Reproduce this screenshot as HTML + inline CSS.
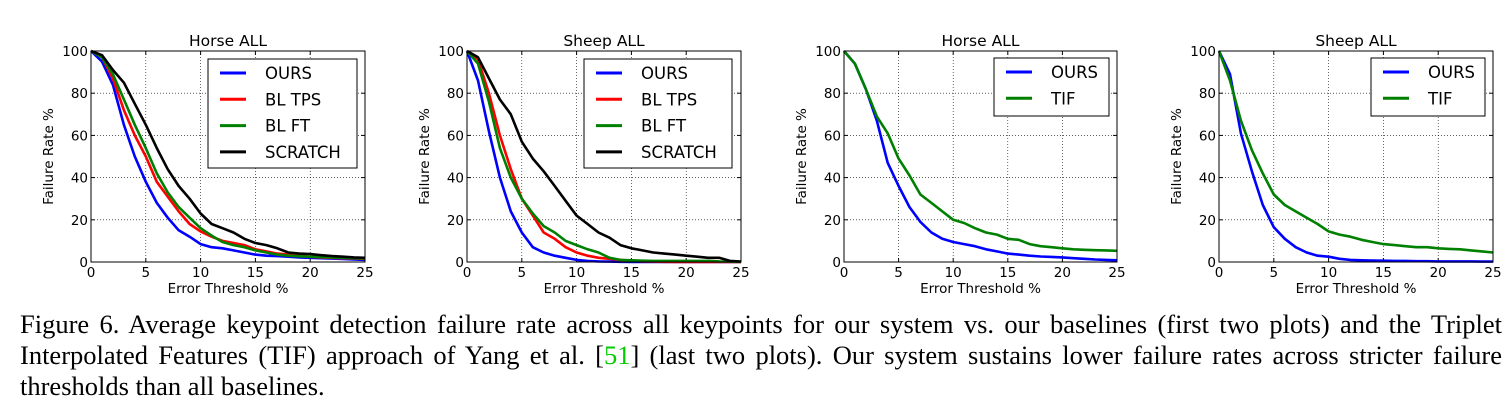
<!DOCTYPE html>
<html><head><meta charset="utf-8">
<style>
body{margin:0;background:#fff;width:1510px;height:412px;overflow:hidden;position:relative}
#cap{position:absolute;left:20px;top:309px;width:1482px;font-family:"Liberation Serif",serif;font-size:26.5px;line-height:31px;color:#000}
#cap .ln{display:block;text-align:justify;text-align-last:justify;white-space:nowrap}
#cap .last{display:block;text-align:left}
#cap .ref{color:#0c0}
svg text{font-family:"DejaVu Sans","Liberation Sans",sans-serif}
</style></head><body>
<svg id="fig" width="1510" height="300" style="position:absolute;left:0;top:0"></svg>
<div id="cap"><span class="ln">Figure 6. Average keypoint detection failure rate across all keypoints for our system vs. our baselines (first two plots) and the Triplet</span><span class="ln">Interpolated Features (TIF) approach of Yang et al. [<span class="ref">51</span>] (last two plots). Our system sustains lower failure rates across stricter failure</span><span class="last">thresholds than all baselines.</span></div>
<script>
const xTicks=[0,5,10,15,20,25];
const yTicks=[0,20,40,60,80,100];
const titles=["Horse ALL","Sheep ALL","Horse ALL","Sheep ALL"];
const p1Ours=[100,95,84,65,50,38,28,21,15,12,8.5,7,6.5,5.5,4.5,3.5,3,2.8,2.5,2.2,2,1.8,1.6,1.4,1.2,1];
const p1Tps=[100,97,87,72,60,50,38,31,24,18,14.5,12,10,9,8,6,5,4,3.5,3,2.5,2.2,2,1.8,1.7,1.5];
const p1Ft=[100,97,89,77,65,54,42,33,26,21,16,12.5,9.5,8,7,5.5,4.5,3.5,3,2.7,2.5,2.3,2.2,2,1.8,1.7];
const p1Scratch=[100,98,91,85,75,65,54,44,36,30,23,18,16,14,11,9,8,6.5,4.5,4,3.8,3.2,2.8,2.5,2.2,2];
const p2Ours=[100,86,62,40,24,14,7,4.5,3,2,1,0.5,0.3,0.2,0.1,0,0,0,0,0,0,0,0,0,0,0];
const p2Tps=[100,96,80,60,44,30,22,14,11,7,4.5,3,2,1.5,1,0.5,0.3,0.2,0.1,0,0,0,0,0,0,0];
const p2Ft=[100,94,76,54,40,30,23,17,14,10,8,6,4.5,2,1,0.8,0.6,0.5,0.5,0.5,0.5,0.5,0.5,0.3,0.2,0.1];
const p2Scratch=[100,97,87,77,70,57,49,43,36,29,22,18,14,11.5,8,6.5,5.5,4.5,4,3.5,3,2.5,2,2,0.5,0.2];
const p3Ours=[100,94,82,67,47,36,26,19,14,11,9.5,8.5,7.5,6,5,4,3.5,3,2.6,2.4,2.2,1.8,1.5,1.2,1,0.8];
const p3Tif=[100,94,82,69,61,49,41,32,28,24,20,18.5,16,14,13,11,10.5,8.5,7.5,7,6.5,6,5.8,5.6,5.5,5.3];
const p4Ours=[100,89,61,43,27,16.5,11,7,4.5,3,2.5,1.5,1,0.8,0.7,0.6,0.5,0.5,0.4,0.4,0.3,0.3,0.3,0.3,0.2,0.2];
const p4Tif=[100,86,67,53,42,32,27,24,21,18,14.5,13,12,10.5,9.5,8.5,8,7.5,7,7,6.5,6.2,6,5.5,5,4.5];
const ns="http://www.w3.org/2000/svg";
const svg=document.getElementById('fig');
function mk(tag,attrs,parent){const e=document.createElementNS(ns,tag);for(const k in attrs)e.setAttribute(k,attrs[k]);(parent||svg).appendChild(e);return e;}
const panels=[
 {x0:91,x1:365,leg:[208,59,357,168],series:[["OURS",p1Ours,"#0000ff"],["BL TPS",p1Tps,"#ff0000"],["BL FT",p1Ft,"#008000"],["SCRATCH",p1Scratch,"#000"]]},
 {x0:467,x1:741,leg:[584,59,732,168],series:[["OURS",p2Ours,"#0000ff"],["BL TPS",p2Tps,"#ff0000"],["BL FT",p2Ft,"#008000"],["SCRATCH",p2Scratch,"#000"]]},
 {x0:844,x1:1117,leg:[994,58,1109,116],series:[["OURS",p3Ours,"#0000ff"],["TIF",p3Tif,"#008000"]]},
 {x0:1219,x1:1493,leg:[1371,58,1485,116],series:[["OURS",p4Ours,"#0000ff"],["TIF",p4Tif,"#008000"]]}
];
const yT=51,yB=262;
panels.forEach((p,i)=>{
 const g=mk('g',{});
 
 
 const sx=v=>p.x0+(p.x1-p.x0)*v/25, sy=v=>yB-(yB-yT)*v/100;
 xTicks.forEach(t=>{
  const x=sx(t);
  if(t>0&&t<25){const l=mk('line',{x1:x,x2:x,y1:yT,y2:yB,stroke:'#000','stroke-width':0.6,'stroke-dasharray':'1,2'},g);}
  mk('line',{x1:x,x2:x,y1:yB,y2:yB-4,stroke:'#000'},g);
  mk('line',{x1:x,x2:x,y1:yT,y2:yT+4,stroke:'#000'},g);
  const tx=mk('text',{x:x,y:yB+15,'text-anchor':'middle','font-size':13.5},g);tx.textContent=t;
  
 });
 yTicks.forEach(t=>{
  const y=sy(t);
  if(t>0&&t<100){const l=mk('line',{x1:p.x0,x2:p.x1,y1:y,y2:y,stroke:'#000','stroke-width':0.6,'stroke-dasharray':'1,2'},g);}
  mk('line',{x1:p.x0,x2:p.x0+4,y1:y,y2:y,stroke:'#000'},g);
  mk('line',{x1:p.x1,x2:p.x1-4,y1:y,y2:y,stroke:'#000'},g);
  const tx=mk('text',{x:p.x0-3,y:y+5,'text-anchor':'end','font-size':13.5},g);tx.textContent=t;
  
 });
 p.series.forEach(s=>{
  const pts=s[1].map((v,k)=>sx(k).toFixed(1)+','+sy(v).toFixed(1)).join(' ');
  const pl=mk('polyline',{points:pts,fill:'none',stroke:s[2],'stroke-width':2.6,'stroke-linejoin':'round'},g);
  
  
 });
 const fr=mk('rect',{x:p.x0,y:yT,width:p.x1-p.x0,height:yB-yT,fill:'none',stroke:'#000','stroke-width':1},g);
 
 const tt=mk('text',{x:(p.x0+p.x1)/2,y:46,'text-anchor':'middle','font-size':15.5},g);tt.textContent=titles[i];
 
 const xl=mk('text',{x:(p.x0+p.x1)/2,y:293,'text-anchor':'middle','font-size':13.5},g);xl.textContent='Error Threshold %';
 
 const yl=mk('text',{x:0,y:0,'text-anchor':'middle','font-size':13.5,transform:`translate(${p.x0-38},${(yT+yB)/2}) rotate(-90)`},g);yl.textContent='Failure Rate %';
 
 const L=p.leg;
 const lg=mk('g',{},g);
 
 mk('rect',{x:L[0],y:L[1],width:L[2]-L[0],height:L[3]-L[1],fill:'#fff',stroke:'#000','stroke-width':1},lg);
 p.series.forEach((s,k)=>{
  const y=L[1]+14+k*26.3;
  mk('line',{x1:L[0]+12,x2:L[0]+38,y1:y,y2:y,stroke:s[2],'stroke-width':3},lg);
  const t=mk('text',{x:L[0]+57,y:y+6,'font-size':16.5},lg);t.textContent=s[0];
  
 });
});
</script>
</body></html>
